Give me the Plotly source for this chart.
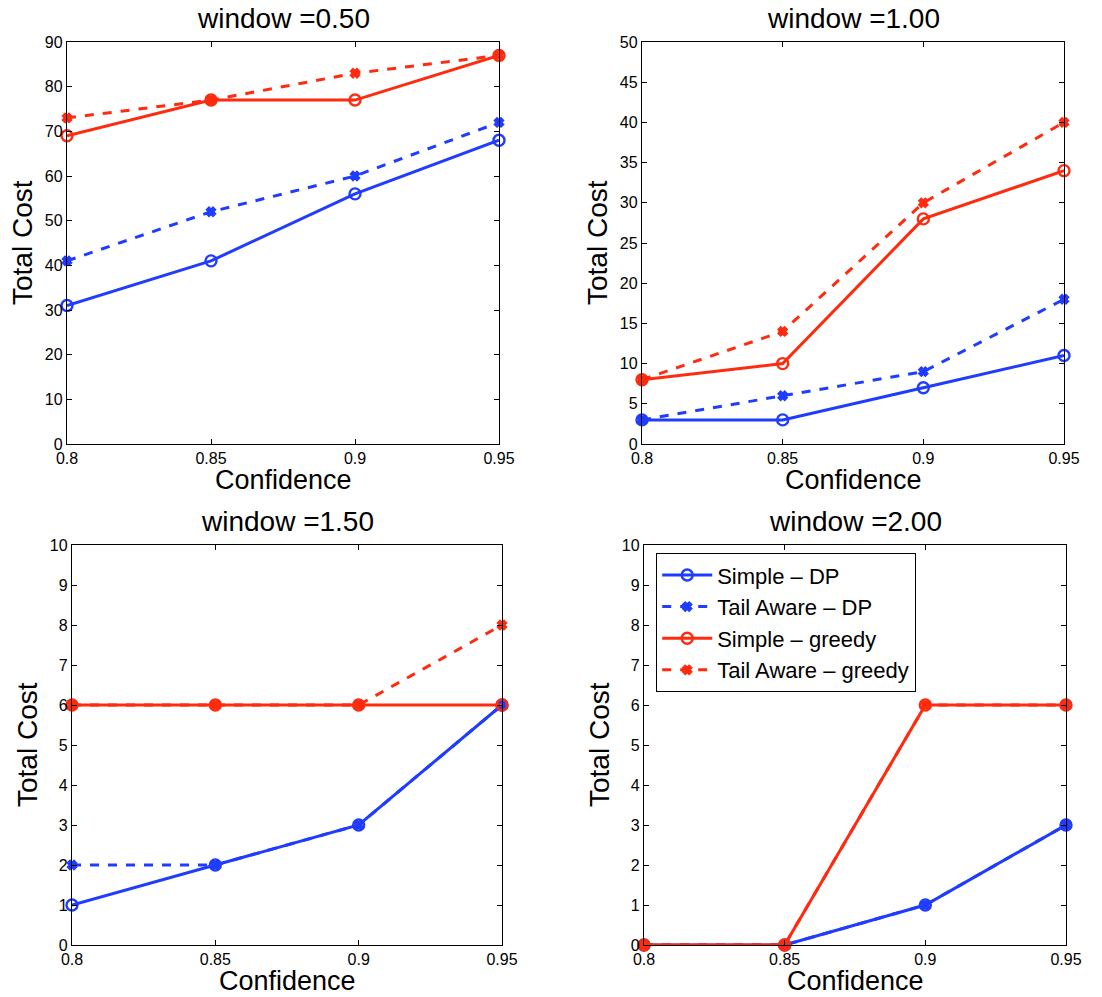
import plotly.graph_objects as go

confidence = [0.8, 0.85, 0.9, 0.95]
windows = ["0.50", "1.00", "1.50", "2.00"]

simple_dp = {"0.50": [31, 41, 56, 68], "1.00": [3, 3, 7, 11], "1.50": [1, 2, 3, 6], "2.00": [0, 0, 1, 3]}
tail_dp = {"0.50": [41, 52, 60, 72], "1.00": [3, 6, 9, 18], "1.50": [2, 2, 3, 6], "2.00": [0, 0, 1, 3]}
simple_greedy = {"0.50": [69, 77, 77, 87], "1.00": [8, 10, 28, 34], "1.50": [6, 6, 6, 6], "2.00": [0, 0, 6, 6]}
tail_greedy = {"0.50": [73, 77, 83, 87], "1.00": [8, 14, 30, 40], "1.50": [6, 6, 6, 8], "2.00": [0, 0, 6, 6]}

y_max = {"0.50": 90, "1.00": 50, "1.50": 10, "2.00": 10}
y_step = {"0.50": 10, "1.00": 5, "1.50": 1, "2.00": 1}

W, H = 1102, 997
# plot areas in pixels: (left, right, top, bottom)
boxes = [(67, 499, 42, 444), (642, 1064, 42, 444), (72, 502, 545, 945), (644, 1066, 545, 945)]

BLUE = "#1f3cff"
RED = "#ff2b0f"
FONT = "Liberation Sans, Arial, Helvetica, sans-serif"

series = [
    ("Simple \u2013 DP", simple_dp, BLUE, "solid", "circle-open"),
    ("Tail Aware \u2013 DP", tail_dp, BLUE, "dash", "x"),
    ("Simple \u2013 greedy", simple_greedy, RED, "solid", "circle-open"),
    ("Tail Aware \u2013 greedy", tail_greedy, RED, "dash", "x"),
]

fig = go.Figure()
annotations = []
layout = {}
for i, (w, (l, r, t, b)) in enumerate(zip(windows, boxes)):
    idx = "" if i == 0 else str(i + 1)
    xa, ya = "x" + idx, "y" + idx
    for name, data, color, dash, sym in series:
        fig.add_trace(go.Scatter(
            x=confidence, y=data[w], mode="lines+markers", name=name,
            line=dict(color=color, width=3, dash=dash),
            marker=dict(symbol=sym, size=11 if sym == "circle-open" else 7,
                        color=color, line=dict(color=color, width=2.4)),
            xaxis=xa, yaxis=ya, showlegend=(i == 3), cliponaxis=False,
        ))
    common = dict(showline=True, linecolor="black", linewidth=1.3, mirror="ticks",
                  ticks="inside", ticklen=5, tickcolor="black", showgrid=False,
                  zeroline=False, automargin=False,
                  tickfont=dict(family=FONT, size=16, color="black"))
    layout["xaxis" + idx] = dict(domain=[l / W, r / W], anchor=ya, range=[0.8, 0.95],
                                 tickvals=confidence, ticktext=["0.8", "0.85", "0.9", "0.95"], **common)
    layout["yaxis" + idx] = dict(domain=[1 - b / H, 1 - t / H], anchor=xa, range=[0, y_max[w]],
                                 dtick=y_step[w], tick0=0, **common)
    cx = (l + r) / 2 / W
    annotations.append(dict(text="window =" + w, x=cx, y=1 - (t - 24) / H, xref="paper", yref="paper",
                            showarrow=False, font=dict(family=FONT, size=28, color="black"),
                            xanchor="center", yanchor="middle"))
    annotations.append(dict(text="Confidence", x=cx, y=1 - (b + 36) / H, xref="paper", yref="paper",
                            showarrow=False, font=dict(family=FONT, size=27, color="black"),
                            xanchor="center", yanchor="middle"))
    annotations.append(dict(text="Total Cost", x=(l - 45) / W,
                            y=1 - (t + b) / 2 / H, xref="paper", yref="paper", textangle=-90,
                            showarrow=False, font=dict(family=FONT, size=28, color="black"),
                            xanchor="center", yanchor="middle"))

fig.update_layout(
    width=W, height=H, margin=dict(l=0, r=0, t=0, b=0, autoexpand=False),
    paper_bgcolor="white", plot_bgcolor="white",
    annotations=annotations,
    legend=dict(x=656 / W, y=1 - 553 / H, xanchor="left", yanchor="top",
                bordercolor="black", borderwidth=1.2, bgcolor="white",
                font=dict(family=FONT, size=22, color="black"),
                tracegroupgap=0, itemwidth=50),
    **layout,
)
fig.write_html("out.html", config={"displayModeBar": False},
               post_script="document.body.style.margin='0px';document.body.style.padding='0px';")
